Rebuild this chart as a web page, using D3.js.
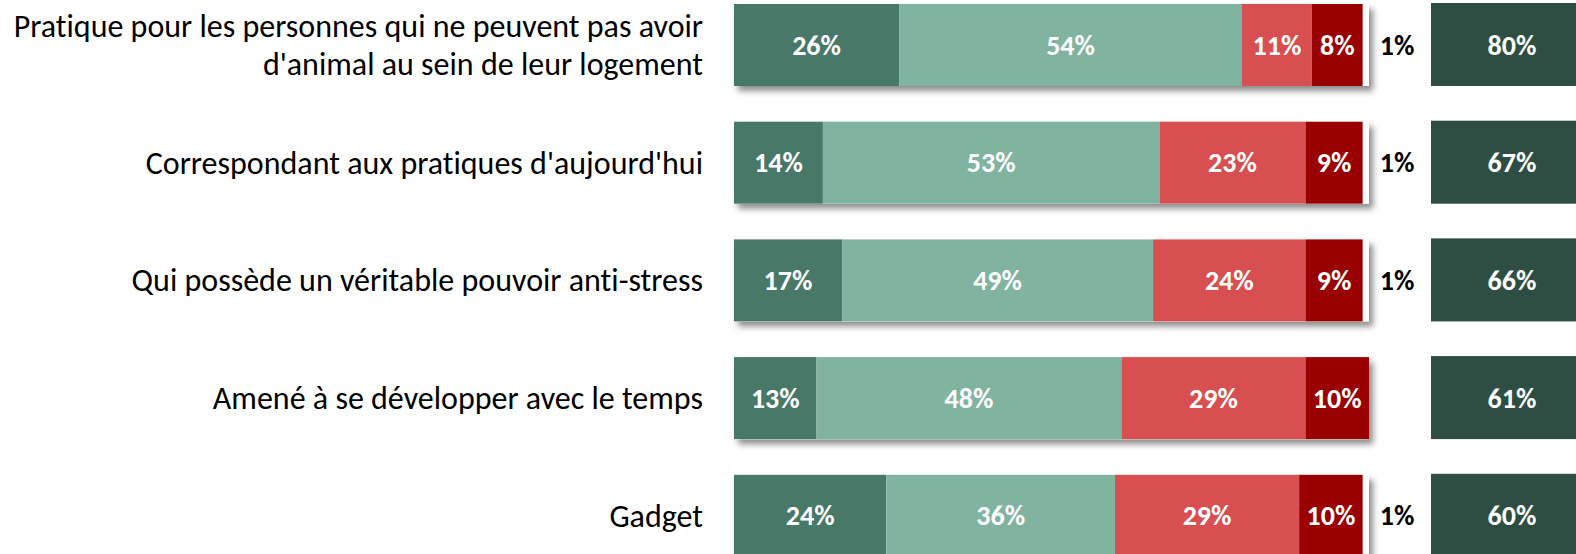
<!DOCTYPE html>
<html>
<head>
<meta charset="utf-8">
<script src="https://cdn.jsdelivr.net/npm/d3@7"></script>
<style>
  body { margin: 0; background: #fff; }
  svg { display: block; }
  text { font-family: Calibri, Carlito, "Open Sans", sans-serif; font-variant-ligatures: none; }
</style>
</head>
<body>
<div id="chart"></div>
<script>
WIDTH = 1576;
HEIGHT = 554;

// Data
var categories = [
  "Pratique pour les personnes qui ne peuvent pas avoir|d'animal au sein de leur logement",
  "Correspondant aux pratiques d'aujourd'hui",
  "Qui possède un véritable pouvoir anti-stress",
  "Amené à se développer avec le temps",
  "Gadget"
];
var toutAFait = [26, 14, 17, 13, 24];
var plutot = [54, 53, 49, 48, 36];
var plutotPas = [11, 23, 24, 29, 29];
var pasDuTout = [8, 9, 9, 10, 10];
var nsp = [1, 1, 1, 0, 1];
var totalOui = [80, 67, 66, 61, 60];

var seriesColors = ["#487868", "#81b3a1", "#d84f51", "#990000"];
var series = [toutAFait, plutot, plutotPas, pasDuTout];

var svg = d3
  .select("#chart")
  .append("svg")
  .attr("width", WIDTH)
  .attr("height", HEIGHT);

var defs = svg.append("defs");
var shadow = defs
  .append("filter")
  .attr("id", "shadow")
  .attr("x", "-5%")
  .attr("y", "-20%")
  .attr("width", "115%")
  .attr("height", "150%");
shadow
  .append("feDropShadow")
  .attr("dx", 4)
  .attr("dy", 5)
  .attr("stdDeviation", 3)
  .attr("flood-color", "#000")
  .attr("flood-opacity", 0.45);

const xScale = d3.scaleLinear().domain([0, 100]).range([734, 1369]);
const yScale = d3
  .scaleBand()
  .domain(categories)
  .range([4, 4 + 4 * 117.7 + 82])
  .paddingInner((117.7 - 82) / 117.7)
  .paddingOuter(0);

// build stacked rows
var rows = categories.map(function(c, i) {
  var x0 = 0;
  var segs = series.map(function(s, j) {
    var seg = { cat: c, start: x0, value: s[i], color: seriesColors[j] };
    x0 += s[i];
    return seg;
  });
  return { cat: c, segs: segs, end: x0, nsp: nsp[i], total: totalOui[i] };
});

var bars_g = svg.append("g");

var row_g = bars_g
  .selectAll("g.row")
  .data(rows)
  .enter()
  .append("g")
  .attr("class", "row")
  .attr("transform", d => "translate(0," + yScale(d.cat) + ")");

// white backing for the full 100% (carries the shadow)
row_g
  .append("rect")
  .attr("x", xScale(0))
  .attr("y", 0)
  .attr("width", xScale(100) - xScale(0))
  .attr("height", yScale.bandwidth())
  .attr("fill", "#fff")
  .attr("filter", "url(#shadow)");

row_g
  .selectAll("rect.seg")
  .data(d => d.segs)
  .enter()
  .append("rect")
  .attr("class", "seg")
  .attr("x", d => xScale(d.start))
  .attr("y", 0)
  .attr("width", d => xScale(d.start + d.value) - xScale(d.start))
  .attr("height", yScale.bandwidth())
  .attr("fill", d => d.color);

row_g
  .selectAll("text.seg")
  .data(d => d.segs)
  .enter()
  .append("text")
  .attr("class", "seg")
  .attr("x", d => xScale(d.start + d.value / 2))
  .attr("y", yScale.bandwidth() / 2)
  .attr("dy", "0.34em")
  .attr("text-anchor", "middle")
  .attr("fill", "#fff")
  .style("font-weight", "bold")
  .style("font-size", "28px")
  .text(d => d.value + "%");

// NSP outside
row_g
  .filter(d => d.nsp > 0)
  .append("text")
  .attr("x", 1397)
  .attr("y", yScale.bandwidth() / 2)
  .attr("dy", "0.34em")
  .attr("text-anchor", "middle")
  .attr("fill", "#000")
  .style("font-weight", "bold")
  .style("font-size", "28px")
  .text(d => d.nsp + "%");

// total boxes
row_g
  .append("rect")
  .attr("x", 1431)
  .attr("y", -1)
  .attr("width", 162)
  .attr("height", yScale.bandwidth() + 1)
  .attr("fill", "#2e4e43");

row_g
  .append("text")
  .attr("x", 1512)
  .attr("y", yScale.bandwidth() / 2)
  .attr("dy", "0.34em")
  .attr("text-anchor", "middle")
  .attr("fill", "#fff")
  .style("font-weight", "bold")
  .style("font-size", "28px")
  .text(d => d.total + "%");

// category labels
var label = row_g
  .append("text")
  .attr("text-anchor", "end")
  .attr("fill", "#000")
  .style("font-size", "32px");

label.each(function(d) {
  var lines = d.cat.split("|");
  var t = d3.select(this);
  var mid = yScale.bandwidth() / 2;
  lines.forEach(function(l, k) {
    t.append("tspan")
      .attr("x", 703)
      .attr("y", mid + (k - (lines.length - 1) / 2) * 38)
      .attr("dy", "0.34em")
      .text(l);
  });
});
</script>
</body>
</html>
